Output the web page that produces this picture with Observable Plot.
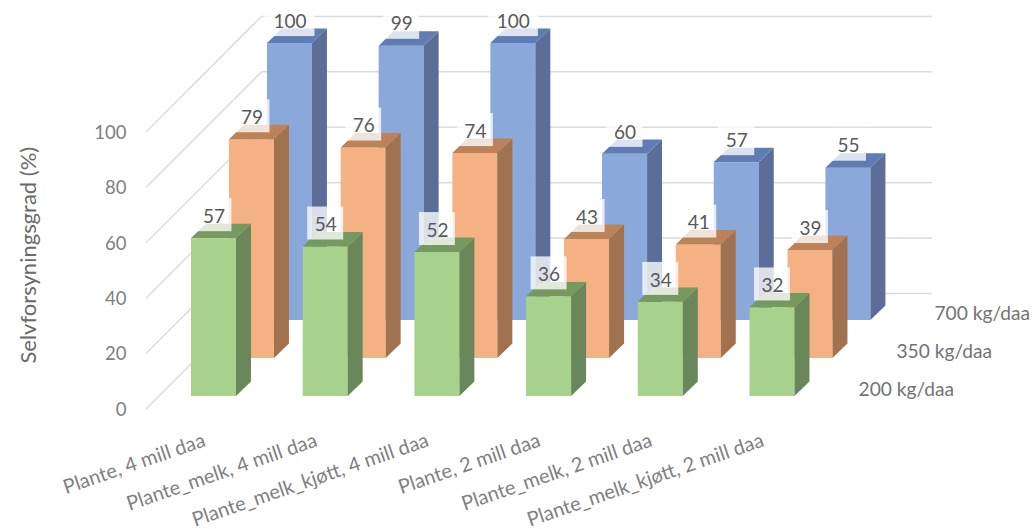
<!DOCTYPE html>
<html>
<head>
<meta charset="utf-8">
<script src="https://cdn.jsdelivr.net/npm/d3@7"></script>
<script src="https://cdn.jsdelivr.net/npm/@observablehq/plot@0.6"></script>
<style>
  html, body { margin: 0; padding: 0; background: #fff; }
</style>
</head>
<body>
<div id="chart"></div>
<script>
// Self-sufficiency by production scenario and yield level
const categories = [
  "Plante, 4 mill daa",
  "Plante_melk, 4 mill daa",
  "Plante_melk_kjøtt, 4 mill daa",
  "Plante, 2 mill daa",
  "Plante_melk, 2 mill daa",
  "Plante_melk_kjøtt, 2 mill daa"
];
const seriesNames = ["200 kg/daa", "350 kg/daa", "700 kg/daa"];
const values200 = [57, 54, 52, 36, 34, 32];
const values350 = [79, 76, 74, 43, 41, 39];
const values700 = [100, 99, 100, 60, 57, 55];
const valueTicks = [0, 20, 40, 60, 80, 100];
const axisTitle = "Selvforsyningsgrad (%)";

const faceColors = [
  {front: "#a9d18e", side: "#69875a", top: "#76995f"},
  {front: "#f4b183", side: "#a1724f", top: "#bc8259"},
  {front: "#8aa8da", side: "#5a6e98", top: "#5f7db2"}
];

// Oblique projection, in category and percent units
const rowX = 0.34, rowY = 13.72;      // shift from one series row to the next
const halfBar = 0.2015;               // half of a bar's width
const sideX = 0.134, sideY = 5.2;     // visible depth of a bar
const wallFrontX = -0.604, wallFrontY = -4.33;
const wallBackX = 0.425, wallBackY = 37.2;
const wallEndX = 6.423;

const allValues = [values200, values350, values700];

const bars = allValues.flatMap((vals, s) => vals.map((v, i) => {
  const cx = i + s * rowX, base = s * rowY;
  return {s, i, v, cx, xl: cx - halfBar, xr: cx + halfBar, base, top: base + v};
}));

// Side and top faces are parallelograms traced as closed areas
const sidePoints = bars.flatMap(b => [
  {id: b.s + "-" + b.i, s: b.s, x: b.xr, y1: b.base, y2: b.top},
  {id: b.s + "-" + b.i, s: b.s, x: b.xr + sideX, y1: b.base + sideY, y2: b.top + sideY}
]);
const topPoints = bars.flatMap(b => [
  {x: b.xl, y1: b.top, y2: b.top},
  {x: b.xl + sideX, y1: b.top, y2: b.top + sideY},
  {x: b.xr, y1: b.top, y2: b.top + sideY},
  {x: b.xr + sideX, y1: b.top + sideY, y2: b.top + sideY}
].map(p => ({...p, id: b.s + "-" + b.i, s: b.s})));

const gridLines = valueTicks.flatMap(t => [
  {t, x: wallFrontX, y: t + wallFrontY},
  {t, x: wallBackX, y: t + wallBackY},
  {t, x: wallEndX, y: t + wallBackY}
]);

const seriesMarks = [2, 1, 0].flatMap(s => {
  const c = faceColors[s];
  return [
    Plot.rect(bars.filter(b => b.s === s), {x1: "xl", x2: "xr", y1: "base", y2: "top", fill: c.front, inset: 0}),
    Plot.area(sidePoints.filter(p => p.s === s), {x1: "x", y1: "y1", y2: "y2", z: "id", fill: c.side}),
    Plot.area(topPoints.filter(p => p.s === s), {x1: "x", y1: "y1", y2: "y2", z: "id", fill: c.top})
  ];
});

const font = "Lato, 'Noto Sans', sans-serif";

const plot = Plot.plot({
  width: 1035,
  height: 529,
  margin: 0,
  style: {background: "#fff", fontFamily: font},
  x: {type: "linear", domain: [0, 5], range: [213.5, 772], axis: null},
  y: {type: "linear", domain: [0, 100], range: [396, 119], axis: null},
  marks: [
    Plot.line(gridLines, {x: "x", y: "y", z: "t", stroke: "#dcdcdc", strokeWidth: 1.5}),
    ...seriesMarks,
    // Translucent plates behind the value labels
    Plot.rect(bars, {
      x1: b => b.cx - (String(b.v).length > 2 ? 0.224 : 0.161),
      x2: b => b.cx + (String(b.v).length > 2 ? 0.224 : 0.161),
      y1: b => b.top + 2.5,
      y2: b => b.top + 14.4,
      fill: "#fff",
      fillOpacity: 0.78
    }),
    Plot.text(bars, {
      x: "cx",
      y: b => b.top + 7.9,
      text: b => String(b.v),
      fontSize: 19,
      fill: "#595959"
    }),
    // Value axis labels on the front of the side wall
    Plot.text(valueTicks, {
      x: wallFrontX - 0.18,
      y: t => t + wallFrontY - 0.5,
      text: t => String(t),
      textAnchor: "end",
      fontSize: 18.5,
      fill: "#7f7f7f"
    }),
    // Slanted scenario labels
    Plot.text(categories, {
      x: (d, i) => i - 0.085,
      y: -15.6,
      text: d => d,
      textAnchor: "end",
      rotate: -19,
      fontSize: 20,
      fill: "#7f7f7f"
    }),
    // Series labels beside each row
    Plot.text(seriesNames, {
      x: (d, s) => 5.77 + s * rowX,
      y: (d, s) => 2.5 + s * rowY,
      text: d => d,
      textAnchor: "start",
      fontSize: 19.2,
      fill: "#737373"
    }),
    Plot.text([axisTitle], {
      x: -1.66,
      y: 51,
      text: d => d,
      rotate: -90,
      fontSize: 22,
      fill: "#6a6a6a"
    })
  ]
});

document.getElementById("chart").append(plot);
</script>
</body>
</html>
